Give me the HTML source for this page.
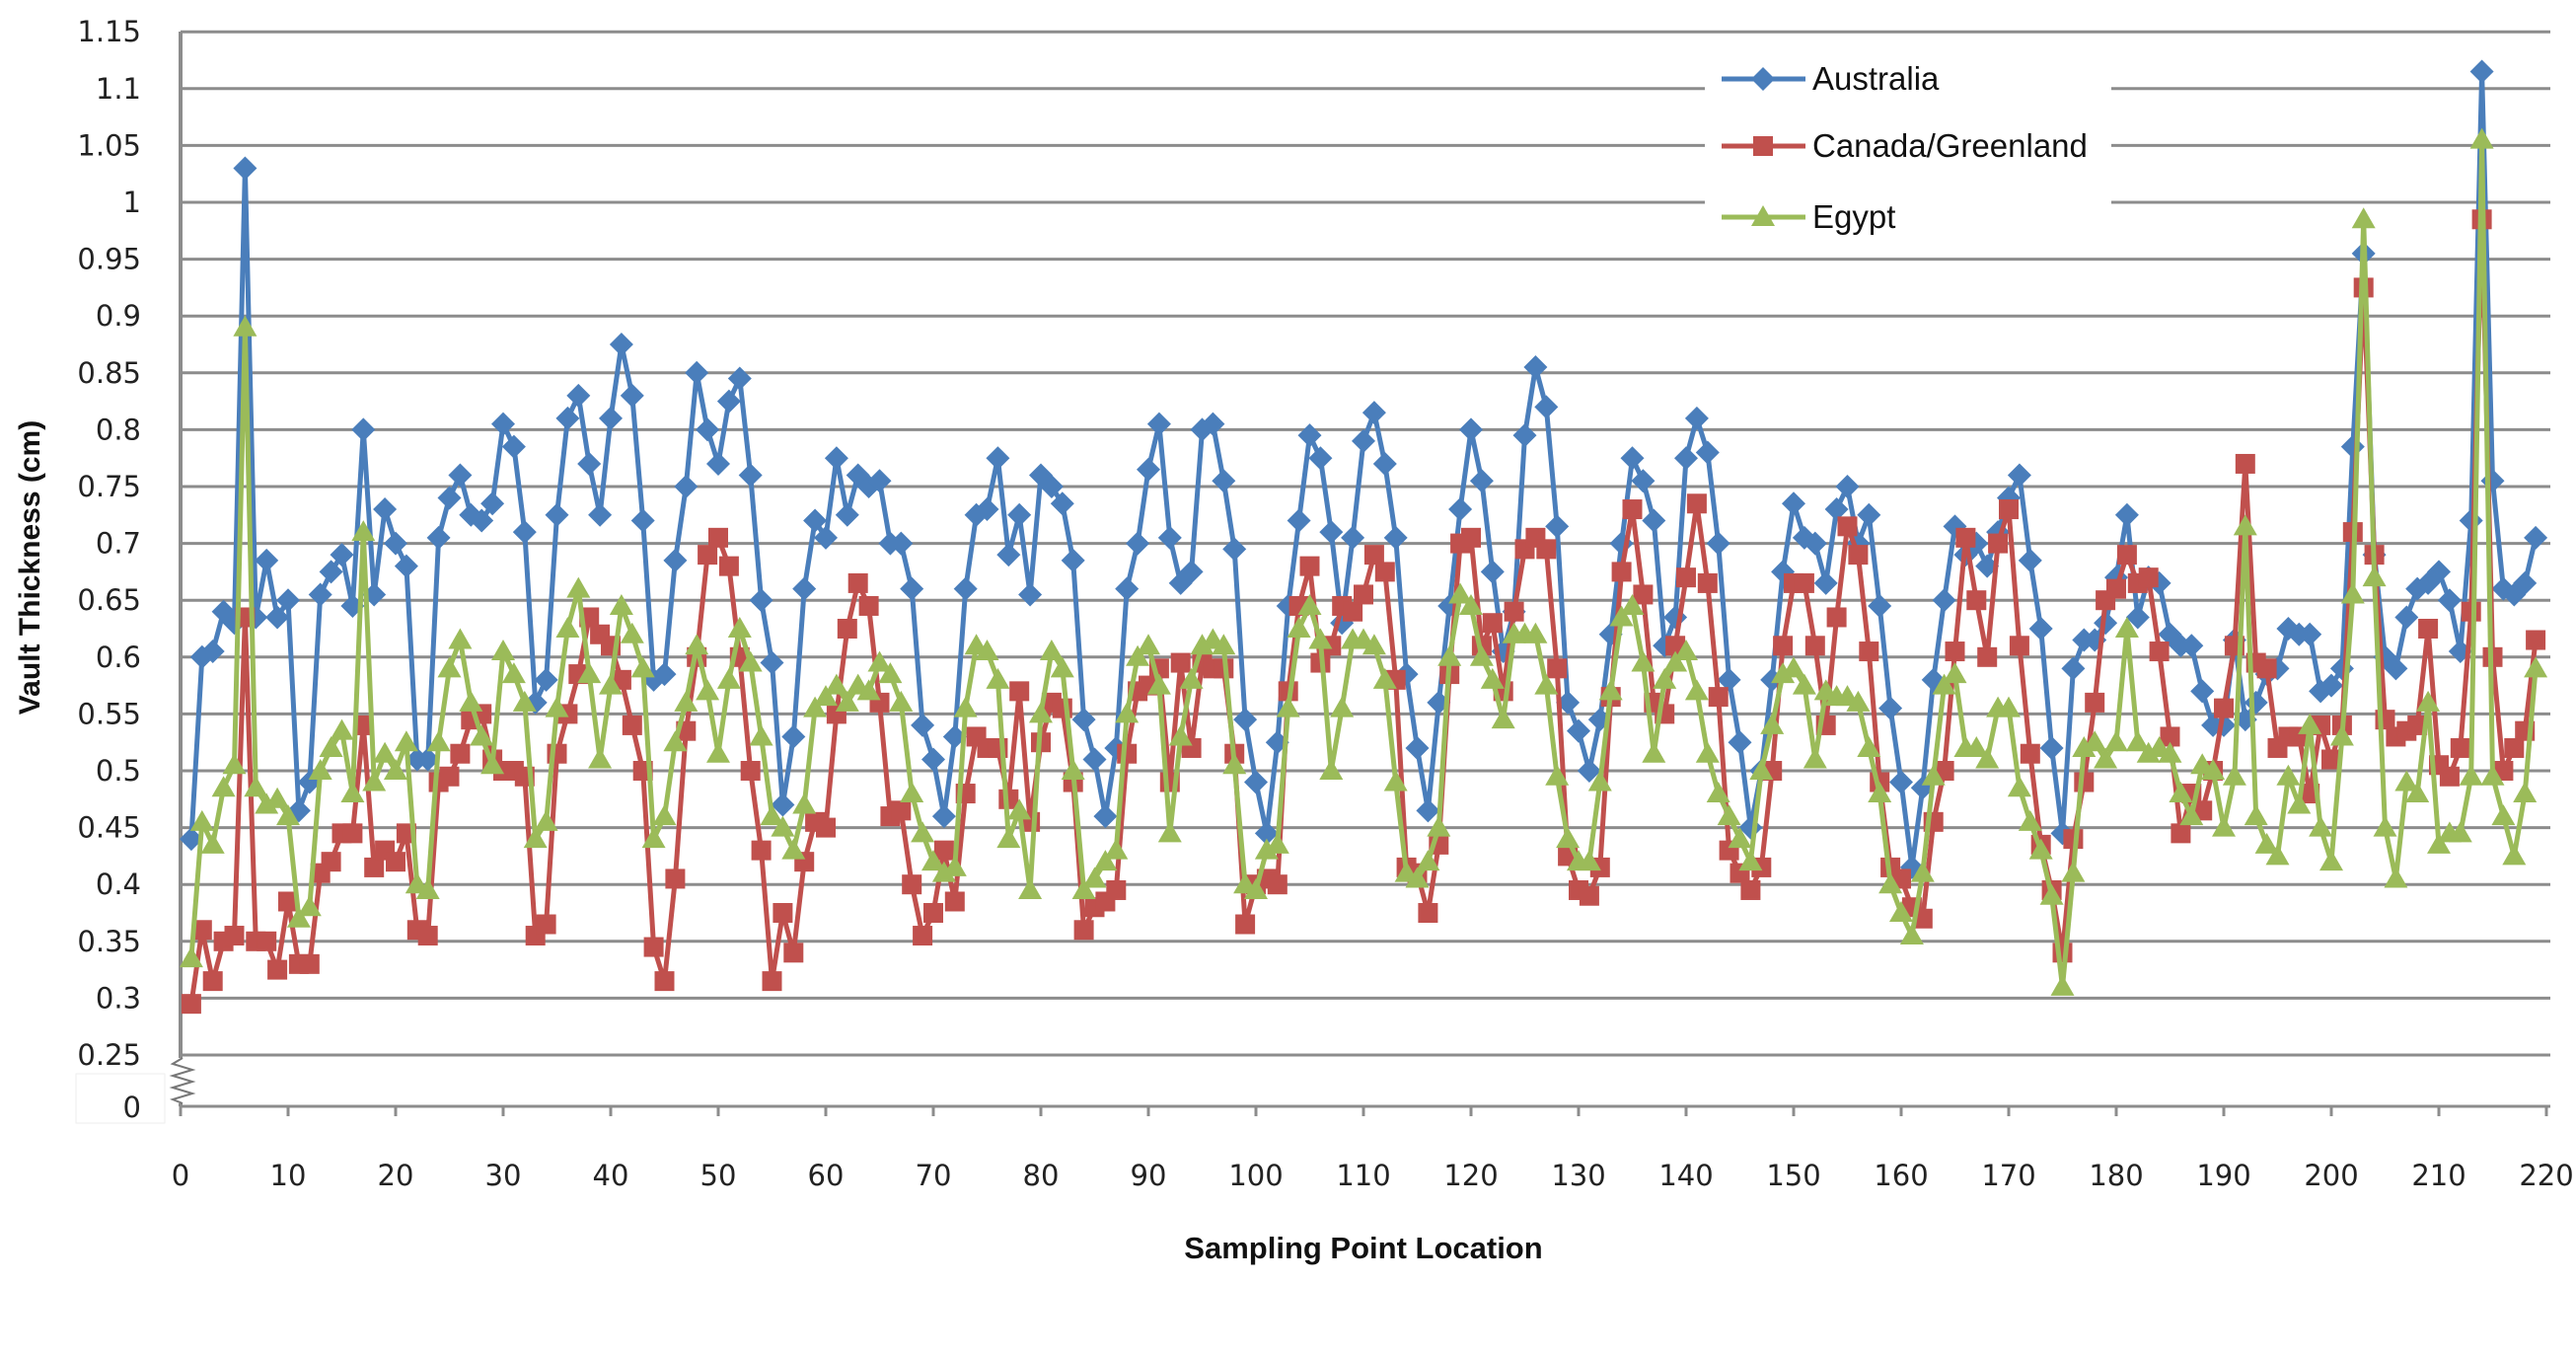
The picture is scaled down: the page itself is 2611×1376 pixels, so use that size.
<!DOCTYPE html>
<html><head><meta charset="utf-8"><style>
html,body{margin:0;padding:0;background:#fff;}
svg{display:block;}
</style></head><body>
<svg id="c" width="2611" height="1376" xmlns="http://www.w3.org/2000/svg" font-family="'DejaVu Sans', 'Liberation Sans', sans-serif"></svg>
<script>
var A=[0.44,0.60,0.605,0.64,0.63,1.03,0.635,0.685,0.635,0.65,0.465,0.49,0.655,0.675,0.69,0.645,0.80,0.655,0.73,0.70,0.68,0.51,0.51,0.705,0.74,0.76,0.725,0.72,0.735,0.805,0.785,0.71,0.56,0.58,0.725,0.81,0.83,0.77,0.725,0.81,0.875,0.83,0.72,0.58,0.585,0.685,0.75,0.85,0.80,0.77,0.825,0.845,0.76,0.65,0.595,0.47,0.53,0.66,0.72,0.705,0.775,0.725,0.76,0.75,0.755,0.70,0.70,0.66,0.54,0.51,0.46,0.53,0.66,0.725,0.73,0.775,0.69,0.725,0.655,0.76,0.75,0.735,0.685,0.545,0.51,0.46,0.52,0.66,0.70,0.765,0.805,0.705,0.665,0.675,0.80,0.805,0.755,0.695,0.545,0.49,0.445,0.525,0.645,0.72,0.795,0.775,0.71,0.63,0.705,0.79,0.815,0.77,0.705,0.585,0.52,0.465,0.56,0.645,0.73,0.80,0.755,0.675,0.605,0.64,0.795,0.855,0.82,0.715,0.56,0.535,0.50,0.545,0.62,0.70,0.775,0.755,0.72,0.61,0.635,0.775,0.81,0.78,0.70,0.58,0.525,0.45,0.50,0.58,0.675,0.735,0.705,0.70,0.665,0.73,0.75,0.70,0.725,0.645,0.555,0.49,0.415,0.485,0.58,0.65,0.715,0.69,0.70,0.68,0.71,0.74,0.76,0.685,0.625,0.52,0.445,0.59,0.615,0.615,0.63,0.67,0.725,0.635,0.67,0.665,0.62,0.61,0.61,0.57,0.54,0.54,0.615,0.545,0.56,0.585,0.59,0.625,0.62,0.62,0.57,0.575,0.59,0.785,0.955,0.69,0.60,0.59,0.635,0.66,0.665,0.675,0.65,0.605,0.72,1.115,0.755,0.66,0.655,0.665,0.705];
var C=[0.295,0.36,0.315,0.35,0.355,0.635,0.35,0.35,0.325,0.385,0.33,0.33,0.41,0.42,0.445,0.445,0.54,0.415,0.43,0.42,0.445,0.36,0.355,0.49,0.495,0.515,0.545,0.55,0.51,0.50,0.50,0.495,0.355,0.365,0.515,0.55,0.585,0.635,0.62,0.61,0.58,0.54,0.50,0.345,0.315,0.405,0.535,0.60,0.69,0.705,0.68,0.60,0.50,0.43,0.315,0.375,0.34,0.42,0.455,0.45,0.55,0.625,0.665,0.645,0.56,0.46,0.465,0.40,0.355,0.375,0.43,0.385,0.48,0.53,0.52,0.52,0.475,0.57,0.455,0.525,0.56,0.555,0.49,0.36,0.38,0.385,0.395,0.515,0.57,0.575,0.59,0.49,0.595,0.52,0.595,0.59,0.59,0.515,0.365,0.40,0.405,0.40,0.57,0.645,0.68,0.595,0.61,0.645,0.64,0.655,0.69,0.675,0.58,0.415,0.41,0.375,0.435,0.585,0.70,0.705,0.61,0.63,0.57,0.64,0.695,0.705,0.695,0.59,0.425,0.395,0.39,0.415,0.565,0.675,0.73,0.655,0.56,0.55,0.61,0.67,0.735,0.665,0.565,0.43,0.41,0.395,0.415,0.50,0.61,0.665,0.665,0.61,0.54,0.635,0.715,0.69,0.605,0.49,0.415,0.405,0.38,0.37,0.455,0.50,0.605,0.705,0.65,0.60,0.70,0.73,0.61,0.515,0.435,0.395,0.34,0.44,0.49,0.56,0.65,0.66,0.69,0.665,0.67,0.605,0.53,0.445,0.48,0.465,0.50,0.555,0.61,0.77,0.595,0.59,0.52,0.53,0.53,0.48,0.54,0.51,0.54,0.71,0.925,0.69,0.545,0.53,0.535,0.54,0.625,0.505,0.495,0.52,0.64,0.985,0.60,0.50,0.52,0.535,0.615];
var E=[0.335,0.455,0.435,0.485,0.505,0.89,0.485,0.47,0.475,0.46,0.37,0.38,0.50,0.52,0.535,0.48,0.71,0.49,0.515,0.50,0.525,0.40,0.395,0.525,0.59,0.615,0.56,0.53,0.505,0.605,0.585,0.56,0.44,0.455,0.555,0.625,0.66,0.585,0.51,0.575,0.645,0.62,0.59,0.44,0.46,0.525,0.56,0.61,0.57,0.515,0.58,0.625,0.595,0.53,0.46,0.45,0.43,0.47,0.555,0.565,0.575,0.56,0.575,0.57,0.595,0.585,0.56,0.48,0.445,0.42,0.41,0.415,0.555,0.61,0.605,0.58,0.44,0.465,0.395,0.55,0.605,0.59,0.50,0.395,0.405,0.42,0.43,0.55,0.60,0.61,0.575,0.445,0.53,0.58,0.61,0.615,0.61,0.505,0.40,0.395,0.43,0.435,0.555,0.625,0.645,0.615,0.50,0.555,0.615,0.615,0.61,0.58,0.49,0.41,0.405,0.42,0.45,0.60,0.655,0.645,0.60,0.58,0.545,0.62,0.62,0.62,0.575,0.495,0.44,0.42,0.42,0.49,0.57,0.635,0.645,0.595,0.515,0.58,0.595,0.605,0.57,0.515,0.48,0.46,0.44,0.42,0.50,0.54,0.585,0.59,0.575,0.51,0.57,0.565,0.565,0.56,0.52,0.48,0.40,0.375,0.355,0.41,0.495,0.575,0.585,0.52,0.52,0.51,0.555,0.555,0.485,0.455,0.43,0.39,0.31,0.41,0.52,0.525,0.51,0.525,0.625,0.525,0.515,0.52,0.515,0.48,0.46,0.505,0.50,0.45,0.495,0.715,0.46,0.435,0.425,0.495,0.47,0.54,0.45,0.42,0.53,0.655,0.985,0.67,0.45,0.405,0.49,0.48,0.56,0.435,0.445,0.445,0.495,1.055,0.495,0.46,0.425,0.48,0.59];
function fit(a){a=a.slice(0,219);while(a.length<219)a.push(a[a.length-1]);return a;}
A=fit(A);C=fit(C);E=fit(E);
function px(i){return 183+i*10.9;}
function py(v){return 1069-(v-0.25)*1152;}
var s='';
// grid
for(var k=0;k<=18;k++){var y=py(0.25+k*0.05).toFixed(1);s+='<line x1="183" x2="2585" y1="'+y+'" y2="'+y+'" stroke="#8c8c8c" stroke-width="3"/>';}
s+='<line x1="183" x2="2585" y1="1121" y2="1121" stroke="#8c8c8c" stroke-width="3"/>';
s+='<line x1="183" x2="183" y1="32" y2="1121" stroke="#8c8c8c" stroke-width="4"/>';
for(var t=0;t<=22;t++){var x=183+t*109;s+='<line x1="'+x+'" x2="'+x+'" y1="1121" y2="1131" stroke="#8c8c8c" stroke-width="3"/>';
s+='<text x="'+x+'" y="1201" font-size="29" text-anchor="middle" fill="#222">'+(t*10)+'</text>';}
// y labels
var labs=['0.25','0.3','0.35','0.4','0.45','0.5','0.55','0.6','0.65','0.7','0.75','0.8','0.85','0.9','0.95','1','1.05','1.1','1.15'];
for(var k=0;k<labs.length;k++){s+='<text x="143" y="'+(py(0.25+k*0.05)+10).toFixed(1)+'" font-size="29" text-anchor="end" fill="#222">'+labs[k]+'</text>';}
s+='<rect x="77" y="1088" width="90" height="50" fill="#fff" stroke="#eee" stroke-width="1"/>';
s+='<text x="143" y="1132" font-size="29" text-anchor="end" fill="#222">0</text>';
// break zigzag
s+='<rect x="176" y="1072" width="30" height="46" fill="#fff"/><polyline points="185,1072 175,1078 195,1084 175,1090 195,1096 175,1102 195,1108 175,1114 185,1118" fill="none" stroke="#777" stroke-width="2"/>';
// legend box
s+='<rect x="1728" y="40" width="412" height="210" fill="#fff"/>';
function line(a,col){var p=[];for(var i=0;i<a.length;i++)p.push(px(i+1).toFixed(1)+','+py(a[i]).toFixed(1));return '<polyline points="'+p.join(' ')+'" fill="none" stroke="'+col+'" stroke-width="5" stroke-linejoin="round"/>';}
function dia(x,y,c){return '<polygon points="'+x+','+(y-12)+' '+(x+12)+','+y+' '+x+','+(y+12)+' '+(x-12)+','+y+'" fill="'+c+'"/>';}
function sq(x,y,c){return '<rect x="'+(x-10)+'" y="'+(y-10)+'" width="20" height="20" fill="'+c+'"/>';}
function tri(x,y,c){return '<polygon points="'+x+','+(y-12)+' '+(x+12)+','+(y+9)+' '+(x-12)+','+(y+9)+'" fill="'+c+'"/>';}
var cb='#4a7ebb',cr='#c0504d',cg='#9bbb59';
s+=line(A,cb);for(var i=0;i<219;i++)s+=dia(px(i+1),py(A[i]),cb);
s+=line(C,cr);for(var i=0;i<219;i++)s+=sq(px(i+1),py(C[i]),cr);
s+=line(E,cg);for(var i=0;i<219;i++)s+=tri(px(i+1),py(E[i]),cg);
// legend entries
var L=[['Australia',80,cb,dia],['Canada/Greenland',148,cr,sq],['Egypt',220,cg,tri]];
for(var j=0;j<3;j++){var y=L[j][1];s+='<line x1="1745" x2="1830" y1="'+y+'" y2="'+y+'" stroke="'+L[j][2]+'" stroke-width="5"/>'+L[j][3](1787,y,L[j][2])+'<text x="1837" y="'+(y+11)+'" font-family="Liberation Sans, sans-serif" font-size="33" fill="#111">'+L[j][0]+'</text>';}
// axis titles
s+='<text x="1382" y="1275" font-family="Liberation Sans, sans-serif" font-weight="bold" font-size="31" text-anchor="middle" fill="#111">Sampling Point Location</text>';
s+='<text transform="translate(40,575) rotate(-90)" font-family="Liberation Sans, sans-serif" font-weight="bold" font-size="30" text-anchor="middle" fill="#111">Vault Thickness (cm)</text>';
document.getElementById('c').innerHTML=s;
</script>
</body></html>
